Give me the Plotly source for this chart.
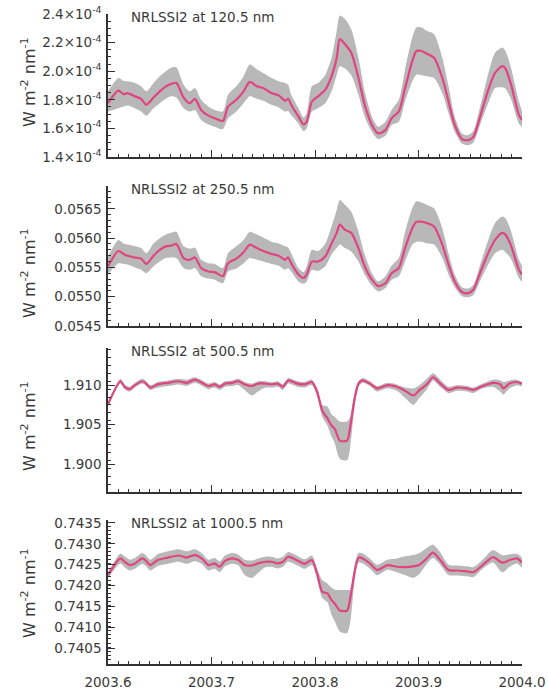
import plotly.graph_objects as go

# ---------------------------------------------------------------- data
# time grid (fractional year) shared by the 120.5 nm and 250.5 nm series
t_uv = [2003.600, 2003.610, 2003.615, 2003.619, 2003.626, 2003.632, 2003.637, 2003.644, 2003.650, 2003.656,
        2003.661, 2003.666, 2003.673, 2003.679, 2003.684, 2003.690, 2003.697, 2003.703, 2003.711, 2003.716,
        2003.724, 2003.731, 2003.737, 2003.744, 2003.750, 2003.758, 2003.765, 2003.771, 2003.774, 2003.777,
        2003.784, 2003.789, 2003.792, 2003.797, 2003.803, 2003.810, 2003.816, 2003.821, 2003.824, 2003.829,
        2003.835, 2003.842, 2003.848, 2003.855, 2003.861, 2003.868, 2003.874, 2003.881, 2003.887, 2003.894,
        2003.898, 2003.903, 2003.908, 2003.915, 2003.923, 2003.929, 2003.935, 2003.942, 2003.948, 2003.953,
        2003.960, 2003.968, 2003.974, 2003.981, 2003.984, 2003.989, 2003.997, 2004.000]

# 120.5 nm irradiance, in units of 1e-4 W m-2 nm-1
ssi120_mid = [1.776, 1.864, 1.840, 1.847, 1.824, 1.807, 1.765, 1.816, 1.859, 1.894,
              1.911, 1.918, 1.816, 1.776, 1.807, 1.729, 1.689, 1.671, 1.652, 1.753,
              1.800, 1.859, 1.925, 1.894, 1.882, 1.847, 1.831, 1.793, 1.807, 1.765,
              1.682, 1.628, 1.647, 1.788, 1.824, 1.871, 1.965, 2.094, 2.224, 2.188,
              2.129, 1.953, 1.765, 1.624, 1.565, 1.588, 1.671, 1.718, 1.882, 2.071,
              2.141, 2.141, 2.122, 2.094, 1.953, 1.788, 1.624, 1.525, 1.518, 1.541,
              1.694, 1.882, 1.988, 2.035, 2.019, 1.918, 1.694, 1.659]
ssi120_hi = [1.859, 1.953, 1.934, 1.929, 1.918, 1.894, 1.859, 1.918, 1.965, 2.000,
             2.024, 2.028, 1.906, 1.859, 1.882, 1.800, 1.753, 1.729, 1.718, 1.835,
             1.894, 1.965, 2.047, 2.012, 1.988, 1.953, 1.929, 1.918, 1.906, 1.835,
             1.741, 1.675, 1.706, 1.894, 1.918, 1.976, 2.094, 2.282, 2.390, 2.365,
             2.294, 2.094, 1.859, 1.682, 1.612, 1.647, 1.729, 1.800, 2.012, 2.235,
             2.306, 2.306, 2.282, 2.259, 2.094, 1.894, 1.682, 1.565, 1.553, 1.581,
             1.765, 2.000, 2.129, 2.165, 2.141, 2.035, 1.788, 1.718]
ssi120_lo = [1.718, 1.741, 1.753, 1.760, 1.741, 1.718, 1.689, 1.741, 1.776, 1.807,
             1.824, 1.816, 1.741, 1.718, 1.729, 1.659, 1.628, 1.612, 1.595, 1.671,
             1.718, 1.776, 1.824, 1.807, 1.793, 1.765, 1.746, 1.718, 1.722, 1.694,
             1.635, 1.581, 1.600, 1.718, 1.741, 1.776, 1.859, 1.976, 2.035, 2.019,
             1.972, 1.835, 1.682, 1.576, 1.525, 1.548, 1.624, 1.647, 1.788, 1.929,
             1.976, 1.972, 1.965, 1.953, 1.847, 1.706, 1.576, 1.494, 1.482, 1.501,
             1.635, 1.788, 1.882, 1.887, 1.878, 1.812, 1.635, 1.612]
ssi120_scale = 1e-4

# 250.5 nm irradiance, W m-2 nm-1
ssi250_mid = [0.05552, 0.05578, 0.05573, 0.05570, 0.05567, 0.05565, 0.05556, 0.05570, 0.05580, 0.05586,
              0.05587, 0.05590, 0.05566, 0.05563, 0.05567, 0.05549, 0.05543, 0.05542, 0.05535, 0.05557,
              0.05565, 0.05576, 0.05589, 0.05583, 0.05578, 0.05573, 0.05570, 0.05563, 0.05567, 0.05557,
              0.05538, 0.05532, 0.05538, 0.05560, 0.05560, 0.05569, 0.05591, 0.05609, 0.05623, 0.05614,
              0.05609, 0.05583, 0.05552, 0.05529, 0.05518, 0.05523, 0.05540, 0.05549, 0.05583, 0.05617,
              0.05628, 0.05628, 0.05626, 0.05620, 0.05589, 0.05555, 0.05526, 0.05508, 0.05506, 0.05512,
              0.05543, 0.05577, 0.05597, 0.05609, 0.05606, 0.05589, 0.05546, 0.05538]
ssi250_hi = [0.05569, 0.05597, 0.05591, 0.05589, 0.05586, 0.05583, 0.05574, 0.05591, 0.05600, 0.05606,
             0.05609, 0.05611, 0.05586, 0.05582, 0.05584, 0.05563, 0.05557, 0.05556, 0.05549, 0.05574,
             0.05586, 0.05597, 0.05611, 0.05606, 0.05601, 0.05594, 0.05591, 0.05586, 0.05584, 0.05574,
             0.05549, 0.05542, 0.05552, 0.05580, 0.05578, 0.05591, 0.05620, 0.05648, 0.05665, 0.05657,
             0.05645, 0.05611, 0.05572, 0.05540, 0.05526, 0.05535, 0.05553, 0.05566, 0.05611, 0.05651,
             0.05663, 0.05661, 0.05657, 0.05651, 0.05617, 0.05574, 0.05538, 0.05516, 0.05514, 0.05520,
             0.05557, 0.05600, 0.05626, 0.05637, 0.05634, 0.05614, 0.05563, 0.05552]
ssi250_lo = [0.05538, 0.05557, 0.05556, 0.05555, 0.05550, 0.05546, 0.05540, 0.05552, 0.05560, 0.05566,
             0.05567, 0.05566, 0.05549, 0.05546, 0.05549, 0.05535, 0.05531, 0.05529, 0.05523, 0.05543,
             0.05548, 0.05557, 0.05566, 0.05563, 0.05560, 0.05556, 0.05553, 0.05546, 0.05549, 0.05543,
             0.05526, 0.05522, 0.05526, 0.05546, 0.05544, 0.05552, 0.05572, 0.05583, 0.05589, 0.05583,
             0.05577, 0.05560, 0.05538, 0.05519, 0.05509, 0.05515, 0.05529, 0.05535, 0.05560, 0.05589,
             0.05594, 0.05594, 0.05591, 0.05589, 0.05566, 0.05538, 0.05516, 0.05501, 0.05499, 0.05503,
             0.05529, 0.05557, 0.05574, 0.05580, 0.05576, 0.05566, 0.05532, 0.05526]

# time grid shared by the 500.5 nm and 1000.5 nm series
t_vis = [2003.600, 2003.612, 2003.616, 2003.621, 2003.626, 2003.633, 2003.636, 2003.641, 2003.648, 2003.658,
         2003.668, 2003.676, 2003.684, 2003.691, 2003.697, 2003.703, 2003.708, 2003.713, 2003.720, 2003.726,
         2003.732, 2003.739, 2003.745, 2003.752, 2003.758, 2003.764, 2003.769, 2003.774, 2003.783, 2003.790,
         2003.797, 2003.802, 2003.807, 2003.812, 2003.816, 2003.819, 2003.824, 2003.831, 2003.834, 2003.838,
         2003.842, 2003.846, 2003.853, 2003.860, 2003.870, 2003.879, 2003.887, 2003.895, 2003.901, 2003.908,
         2003.914, 2003.921, 2003.929, 2003.937, 2003.947, 2003.953, 2003.962, 2003.972, 2003.979, 2003.982,
         2003.988, 2003.995, 2004.000]

ssi500_mid = [1.9076, 1.9105, 1.9098, 1.9095, 1.9100, 1.9105, 1.9103, 1.9097, 1.9101, 1.9103,
              1.9105, 1.9103, 1.9107, 1.9103, 1.9099, 1.9101, 1.9098, 1.9102, 1.9103, 1.9105,
              1.9101, 1.9099, 1.9102, 1.9102, 1.9101, 1.9102, 1.9098, 1.9106, 1.9102, 1.9101,
              1.9104, 1.9092, 1.9068, 1.9058, 1.9049, 1.9045, 1.9030, 1.9030, 1.9047, 1.9081,
              1.9102, 1.9106, 1.9102, 1.9096, 1.9100, 1.9098, 1.9093, 1.9087, 1.9094, 1.9101,
              1.9110, 1.9102, 1.9094, 1.9097, 1.9096, 1.9094, 1.9099, 1.9103, 1.9101, 1.9096,
              1.9102, 1.9104, 1.9102]
ssi500_hi = [1.9078, 1.9108, 1.9101, 1.9098, 1.9103, 1.9108, 1.9106, 1.9100, 1.9104, 1.9106,
             1.9108, 1.9107, 1.9110, 1.9106, 1.9102, 1.9104, 1.9101, 1.9105, 1.9106, 1.9108,
             1.9104, 1.9102, 1.9105, 1.9105, 1.9104, 1.9105, 1.9101, 1.9109, 1.9105, 1.9104,
             1.9107, 1.9096, 1.9075, 1.9073, 1.9063, 1.9060, 1.9054, 1.9054, 1.9060, 1.9088,
             1.9105, 1.9109, 1.9105, 1.9099, 1.9103, 1.9101, 1.9097, 1.9096, 1.9100, 1.9108,
             1.9115, 1.9107, 1.9098, 1.9100, 1.9099, 1.9097, 1.9102, 1.9107, 1.9106, 1.9104,
             1.9106, 1.9107, 1.9104]
ssi500_lo = [1.9073, 1.9102, 1.9095, 1.9092, 1.9097, 1.9102, 1.9100, 1.9094, 1.9097, 1.9099,
             1.9101, 1.9099, 1.9103, 1.9099, 1.9095, 1.9097, 1.9094, 1.9098, 1.9099, 1.9100,
             1.9094, 1.9087, 1.9092, 1.9097, 1.9097, 1.9098, 1.9094, 1.9102, 1.9098, 1.9097,
             1.9100, 1.9086, 1.9060, 1.9049, 1.9035, 1.9027, 1.9007, 1.9005, 1.9022, 1.9070,
             1.9098, 1.9103, 1.9099, 1.9092, 1.9096, 1.9093, 1.9084, 1.9075, 1.9084, 1.9095,
             1.9106, 1.9098, 1.9090, 1.9093, 1.9092, 1.9090, 1.9096, 1.9098, 1.9092, 1.9088,
             1.9096, 1.9100, 1.9099]

ssi1000_mid = [0.74225, 0.74265, 0.74257, 0.74249, 0.74253, 0.74265, 0.74261, 0.74249, 0.74261, 0.74267,
               0.74272, 0.74267, 0.74273, 0.74264, 0.74249, 0.74253, 0.74245, 0.74259, 0.74265, 0.74261,
               0.74249, 0.74248, 0.74253, 0.74257, 0.74257, 0.74253, 0.74257, 0.74269, 0.74260, 0.74252,
               0.74261, 0.74229, 0.74185, 0.74181, 0.74165, 0.74157, 0.74140, 0.74140, 0.74169, 0.74229,
               0.74267, 0.74265, 0.74253, 0.74237, 0.74249, 0.74245, 0.74244, 0.74246, 0.74250, 0.74265,
               0.74279, 0.74261, 0.74237, 0.74236, 0.74234, 0.74232, 0.74249, 0.74268, 0.74257, 0.74255,
               0.74261, 0.74265, 0.74255]
ssi1000_hi = [0.74232, 0.74277, 0.74270, 0.74262, 0.74266, 0.74278, 0.74274, 0.74262, 0.74275, 0.74282,
              0.74287, 0.74282, 0.74287, 0.74277, 0.74262, 0.74266, 0.74258, 0.74272, 0.74278, 0.74274,
              0.74262, 0.74260, 0.74265, 0.74269, 0.74269, 0.74265, 0.74269, 0.74280, 0.74271, 0.74263,
              0.74272, 0.74240, 0.74213, 0.74205, 0.74195, 0.74190, 0.74189, 0.74189, 0.74189, 0.74245,
              0.74278, 0.74277, 0.74265, 0.74250, 0.74262, 0.74265, 0.74270, 0.74273, 0.74278, 0.74290,
              0.74298, 0.74280, 0.74250, 0.74248, 0.74246, 0.74244, 0.74262, 0.74285, 0.74275, 0.74272,
              0.74275, 0.74276, 0.74266]
ssi1000_lo = [0.74218, 0.74253, 0.74244, 0.74236, 0.74240, 0.74252, 0.74248, 0.74236, 0.74247, 0.74252,
              0.74257, 0.74252, 0.74259, 0.74251, 0.74236, 0.74240, 0.74232, 0.74246, 0.74252, 0.74248,
              0.74225, 0.74218, 0.74230, 0.74244, 0.74245, 0.74241, 0.74245, 0.74257, 0.74248, 0.74240,
              0.74249, 0.74215, 0.74170, 0.74160, 0.74130, 0.74115, 0.74090, 0.74086, 0.74110, 0.74205,
              0.74255, 0.74253, 0.74241, 0.74225, 0.74238, 0.74232, 0.74225, 0.74218, 0.74228, 0.74252,
              0.74266, 0.74250, 0.74225, 0.74224, 0.74222, 0.74220, 0.74240, 0.74255, 0.74235, 0.74232,
              0.74245, 0.74253, 0.74244]

panel_titles = ["NRLSSI2 at 120.5 nm", "NRLSSI2 at 250.5 nm",
                "NRLSSI2 at 500.5 nm", "NRLSSI2 at 1000.5 nm"]
y_title = "W m<sup>-2</sup> nm<sup>-1</sup>"

x_tickvals = [2003.6, 2003.7, 2003.8, 2003.9, 2004.0]
x_ticktext = ["2003.6", "2003.7", "2003.8", "2003.9", "2004.0"]

y1_tickvals = [1.4e-4, 1.6e-4, 1.8e-4, 2.0e-4, 2.2e-4, 2.4e-4]
y1_ticktext = ["1.4×10<sup>-4</sup>", "1.6×10<sup>-4</sup>", "1.8×10<sup>-4</sup>",
               "2.0×10<sup>-4</sup>", "2.2×10<sup>-4</sup>", "2.4×10<sup>-4</sup>"]
y2_tickvals = [0.0545, 0.0550, 0.0555, 0.0560, 0.0565]
y2_ticktext = ["0.0545", "0.0550", "0.0555", "0.0560", "0.0565"]
y3_tickvals = [1.900, 1.905, 1.910]
y3_ticktext = ["1.900", "1.905", "1.910"]
y4_tickvals = [0.7405, 0.7410, 0.7415, 0.7420, 0.7425, 0.7430, 0.7435]
y4_ticktext = ["0.7405", "0.7410", "0.7415", "0.7420", "0.7425", "0.7430", "0.7435"]

# ---------------------------------------------------------------- styling
PINK = "#e0457f"
BAND = "#b8b8b8"
AXIS = "#333333"
TXT = "#3a3a3a"
FONT = "DejaVu Sans"

W, H = 548, 693
ML, MR, MT, MB = 108, 26, 14, 29

# vertical pixel extents (top, bottom) of each panel
panel_px = [(14, 157), (186, 326), (348, 492), (520, 664)]
plot_h = H - MT - MB


def to_paper(ypx):
    return (H - MB - ypx) / plot_h


panels = [
    dict(t=t_uv, mid=[v * ssi120_scale for v in ssi120_mid],
         hi=[v * ssi120_scale for v in ssi120_hi], lo=[v * ssi120_scale for v in ssi120_lo],
         rng=[1.4e-4, 2.4e-4], tv=y1_tickvals, tt=y1_ticktext, minor=0.05e-4),
    dict(t=t_uv, mid=ssi250_mid, hi=ssi250_hi, lo=ssi250_lo,
         rng=[0.0545, 0.05689], tv=y2_tickvals, tt=y2_ticktext, minor=0.0001),
    dict(t=t_vis, mid=ssi500_mid, hi=ssi500_hi, lo=ssi500_lo,
         rng=[1.8965, 1.9147], tv=y3_tickvals, tt=y3_ticktext, minor=0.001),
    dict(t=t_vis, mid=ssi1000_mid, hi=ssi1000_hi, lo=ssi1000_lo,
         rng=[0.74012, 0.74357], tv=y4_tickvals, tt=y4_ticktext, minor=0.0001),
]

fig = go.Figure()
layout = dict(
    width=W, height=H,
    margin=dict(l=ML, r=MR, t=MT, b=MB, autoexpand=False),
    paper_bgcolor="white", plot_bgcolor="white",
    showlegend=False,
    annotations=[],
)

y_title_px = [82, 273, 426, 593]

for i, p in enumerate(panels):
    n = "" if i == 0 else str(i + 1)
    xa, ya = "x" + n, "y" + n
    t = p["t"]
    # uncertainty envelope
    fig.add_trace(go.Scatter(
        x=t + t[::-1], y=p["hi"] + p["lo"][::-1],
        fill="toself", fillcolor=BAND, mode="lines",
        line=dict(width=0, color=BAND, shape="spline", smoothing=0.7),
        hoverinfo="skip", xaxis=xa, yaxis=ya))
    # central estimate
    fig.add_trace(go.Scatter(
        x=t, y=p["mid"], mode="lines",
        line=dict(color=PINK, width=2.2, shape="spline", smoothing=0.7),
        xaxis=xa, yaxis=ya))

    top_px, bot_px = panel_px[i]
    dom = [to_paper(bot_px), to_paper(top_px)]
    last = i == len(panels) - 1

    layout["xaxis" + n] = dict(
        domain=[0, 1], anchor=ya, range=[2003.6, 2004.0], automargin=False,
        showline=True, linecolor=AXIS, linewidth=1.5, mirror=False,
        showgrid=False, zeroline=False,
        ticks="inside", ticklen=7, tickwidth=1.2, tickcolor=AXIS,
        tickvals=x_tickvals, ticktext=x_ticktext,
        minor=dict(dtick=0.01, tick0=2003.6, ticks="inside", ticklen=3.5,
                   tickwidth=1, tickcolor=AXIS, showgrid=False),
        showticklabels=last, ticklabelstandoff=5,
        tickfont=dict(family=FONT, size=13.5, color=TXT),
    )
    if i > 0:
        layout["xaxis" + n]["matches"] = "x"
    layout["yaxis" + n] = dict(
        domain=dom, anchor=xa, range=p["rng"], automargin=False,
        showline=True, linecolor=AXIS, linewidth=1.5, mirror=False,
        showgrid=False, zeroline=False,
        ticks="inside", ticklen=7, tickwidth=1.2, tickcolor=AXIS,
        tickvals=p["tv"], ticktext=p["tt"],
        minor=dict(dtick=p["minor"], tick0=p["rng"][0], ticks="inside", ticklen=3.5,
                   tickwidth=1, tickcolor=AXIS, showgrid=False),
        tickfont=dict(family=FONT, size=13.5, color=TXT),
        ticklabelstandoff=2,
    )
    layout["annotations"].append(dict(
        text=panel_titles[i], xref="paper", yref="paper",
        x=(129 - ML) / (W - ML - MR), y=dom[1], xanchor="left", yanchor="middle",
        yshift=-3, showarrow=False,
        font=dict(family=FONT, size=13.5, color=TXT)))
    layout["annotations"].append(dict(
        text=y_title, xref="paper", yref="paper",
        x=(28 - ML) / (W - ML - MR), y=to_paper(y_title_px[i]),
        xanchor="center", yanchor="middle", textangle=-90, showarrow=False,
        font=dict(family=FONT, size=16, color=TXT)))

fig.update_layout(**layout)
fig.write_html("out.html")
